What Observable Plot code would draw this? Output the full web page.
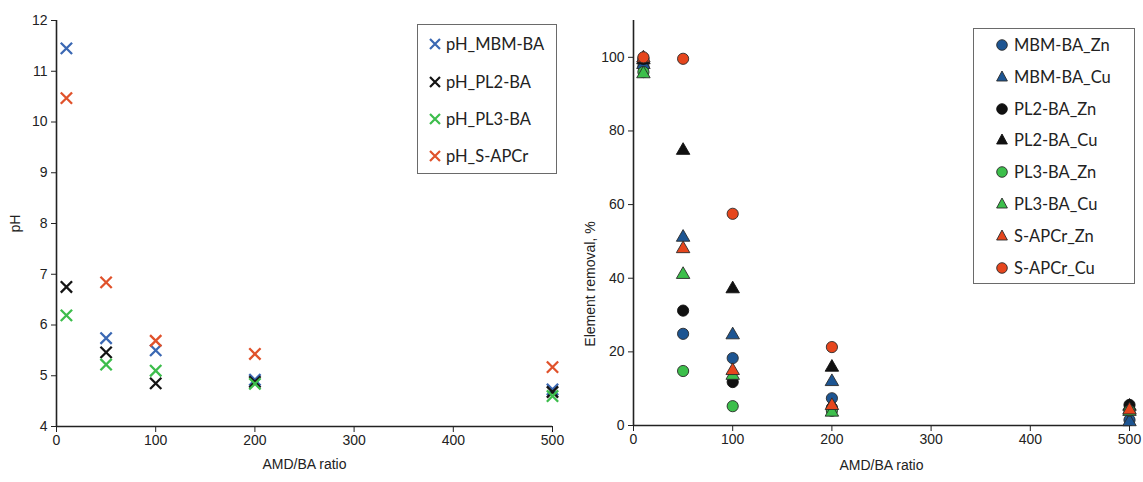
<!DOCTYPE html>
<html>
<head>
<meta charset="utf-8">
<script src="https://cdn.jsdelivr.net/npm/d3@7"></script>
<script src="https://cdn.jsdelivr.net/npm/@observablehq/plot@0.6"></script>
<style>
  html, body { margin: 0; padding: 0; background: #fff; }
  #root { position: relative; width: 1143px; height: 482px; overflow: hidden; }
  #left, #right { position: absolute; top: 0; }
  #left { left: 0; }
  #right { left: 571px; }
  .legend { position: absolute; border: 1px solid #6a6a6a; background: #fff; box-sizing: border-box; }
  .item { position: absolute; font-family: Lato, "Open Sans", sans-serif; font-size: 16.5px; color: #222; white-space: nowrap; line-height: 20px; }
  .item svg { position: absolute; overflow: visible; }
  .ylab { position: absolute; font-family: "Liberation Sans", Arial, sans-serif; font-size: 14px; color: #222; white-space: nowrap; transform: translate(-50%, -50%) rotate(-90deg); }
</style>
</head>
<body>
<div id="root">
  <div id="left"></div>
  <div id="right"></div>
  <div id="ylabR" class="ylab" style="left:590px;top:284px;"></div>
  <div id="legL" class="legend" style="left:417px;top:24px;width:140px;height:150px;"></div>
  <div id="legR" class="legend" style="left:973px;top:28px;width:162px;height:256px;"></div>
</div>
<script>
// ---- data ----
const ratios = [10, 50, 100, 200, 500];
const xTicks = [0, 100, 200, 300, 400, 500];
const xLabel = "AMD/BA ratio";

// left panel: pH
const phLabel = "pH";
const phSeries = ["pH_MBM-BA", "pH_PL2-BA", "pH_PL3-BA", "pH_S-APCr"];
const phColors = ["#3b68b3", "#141414", "#3dbd4c", "#e0522b"];
const phMBM   = [11.45, 5.74, 5.50, 4.92, 4.73];
const phPL2   = [6.75, 5.46, 4.85, 4.88, 4.68];
const phPL3   = [6.19, 5.22, 5.10, 4.84, 4.60];
const phSAPCr = [10.47, 6.84, 5.69, 5.43, 5.17];
const phTicks = [4, 5, 6, 7, 8, 9, 10, 11, 12];

// right panel: element removal, %
const remLabel = "Element removal, %";
const remSeries = ["MBM-BA_Zn", "MBM-BA_Cu", "PL2-BA_Zn", "PL2-BA_Cu", "PL3-BA_Zn", "PL3-BA_Cu", "S-APCr_Zn", "S-APCr_Cu"];
const remSymbols = ["circle", "triangle", "circle", "triangle", "circle", "triangle", "triangle", "circle"];
const remColors = ["#1d5592", "#1d5592", "#111111", "#111111", "#3cbf4b", "#3cbf4b", "#e6461d", "#e6461d"];
const mbmZn   = [97.5, 24.9, 18.3, 7.4, 1.5];
const mbmCu   = [98.0, 51.1, 24.6, 11.9, 1.0];
const pl2Zn   = [99.6, 31.2, 11.8, 4.8, 5.6];
const pl2Cu   = [99.3, 74.7, 37.1, 15.8, 5.2];
const pl3Zn   = [96.0, 14.8, 5.25, 4.0, 4.0];
const pl3Cu   = [95.5, 41.0, 13.6, 3.6, 3.8];
const sapcrZn = [99.8, 48.0, 14.9, 5.4, 4.2];
const sapcrCu = [100.0, 99.6, 57.5, 21.3, null];
const remTicks = [0, 20, 40, 60, 80, 100];

// ---- build tables ----
const phValues = [phMBM, phPL2, phPL3, phSAPCr];
const remValues = [mbmZn, mbmCu, pl2Zn, pl2Cu, pl3Zn, pl3Cu, sapcrZn, sapcrCu];
const toRows = (vals) => ratios.map((r, i) => ({ratio: r, value: vals[i]})).filter(d => d.value != null);

const axisFont = {fontFamily: "'Liberation Sans', Arial, sans-serif", fontSize: "14px", color: "#222", background: "transparent", overflow: "visible"};
const tickText = {fontSize: 14, fill: "#222", stroke: "#222"};

// ---- left chart ----
const left = Plot.plot({
  width: 571, height: 482,
  marginLeft: 56, marginRight: 19, marginTop: 20, marginBottom: 56,
  style: axisFont,
  x: {domain: [0, 500]},
  y: {domain: [4, 12]},
  marks: [
    Plot.axisX({...tickText, ticks: xTicks, tickSize: 6, tickPadding: 3, tickFormat: d => String(d), label: xLabel, labelAnchor: "center", labelOffset: 42, labelArrow: "none"}),
    Plot.axisY({...tickText, ticks: phTicks, tickSize: 5, tickPadding: 4, tickFormat: d => String(d), label: phLabel, labelAnchor: "center", labelOffset: 46, labelArrow: "none"}),
    Plot.ruleY([4], {stroke: "#222", strokeWidth: 1.6}),
    Plot.ruleX([0], {stroke: "#222", strokeWidth: 1.6}),
    ...phValues.map((vals, i) => Plot.dot(toRows(vals), {
      x: "ratio", y: "value", symbol: "times", r: 5.2, stroke: phColors[i], strokeWidth: 2.3
    }))
  ]
});
document.getElementById("left").append(left);

// ---- right chart ----
const right = Plot.plot({
  width: 572, height: 482,
  marginLeft: 62, marginRight: 14, marginTop: 20, marginBottom: 57,
  style: axisFont,
  x: {domain: [0, 500]},
  y: {domain: [0, 110]},
  marks: [
    Plot.axisX({...tickText, ticks: xTicks, tickSize: 6, tickPadding: 3, tickFormat: d => String(d), label: xLabel, labelAnchor: "center", labelOffset: 44, labelArrow: "none"}),
    Plot.axisY({...tickText, ticks: remTicks, tickSize: 5, tickPadding: 4, tickFormat: d => String(d), label: null}),
    Plot.ruleY([0], {stroke: "#222", strokeWidth: 1.6}),
    Plot.ruleX([0], {stroke: "#222", strokeWidth: 1.6}),
    ...remValues.map((vals, i) => Plot.dot(toRows(vals), {
      x: "ratio", y: "value", symbol: remSymbols[i],
      r: remSymbols[i] === "triangle" ? 5 : 5.6,
      fill: remColors[i], fillOpacity: 1,
      stroke: remColors[i] === "#111111" ? "#111" : "#2a2a2a", strokeWidth: 0.9
    }))
  ]
});
document.getElementById("right").append(right);
document.getElementById("ylabR").textContent = remLabel;

// ---- legends (HTML) ----
function markerInner(kind, color) {
  if (kind === "times") return `<path d="M-5,-5L5,5M-5,5L5,-5" stroke="${color}" stroke-width="2.2" fill="none"/>`;
  const stroke = color === "#111111" ? "#111" : "#2a2a2a";
  return kind === "circle"
    ? `<circle r="5.3" fill="${color}" stroke="${stroke}" stroke-width="0.9"/>`
    : `<path d="M0,-6L5.4,4L-5.4,4Z" fill="${color}" stroke="${stroke}" stroke-width="0.9"/>`;
}
const legL = document.getElementById("legL");
const lRows = [44, 82, 119, 156];
phSeries.forEach((name, i) => {
  const el = document.createElement("div");
  el.className = "item";
  el.style.left = (445 - 417) + "px";
  el.style.top = (lRows[i] - 24 - 11) + "px";
  el.innerHTML = `<svg width="12" height="12" viewBox="-6 -6 12 12" style="left:-17px;top:4px">${markerInner("times", phColors[i])}</svg>` + name;
  legL.append(el);
});
const legR = document.getElementById("legR");
remSeries.forEach((name, i) => {
  const el = document.createElement("div");
  el.className = "item";
  el.style.left = (1013 - 973) + "px";
  el.style.top = (45 + i * 31.8 - 28 - 11) + "px";
  el.innerHTML = `<svg width="12" height="12" viewBox="-6 -6 12 12" style="left:-18px;top:4px">${markerInner(remSymbols[i], remColors[i])}</svg>` + name;
  legR.append(el);
});
</script>
</body>
</html>
